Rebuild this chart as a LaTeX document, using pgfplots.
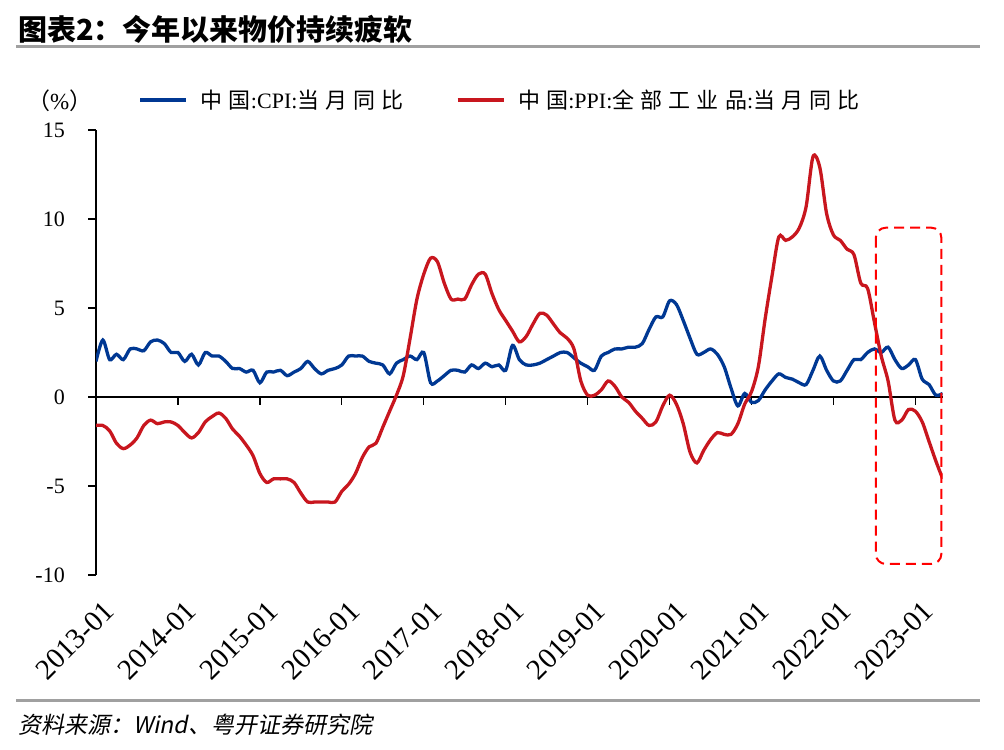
\documentclass[border=0pt]{standalone}
\usepackage{pgfplots}
\usepackage{pgfplotstable}
\pgfplotsset{compat=1.18}
\usepackage{fontspec}
\setmainfont{Liberation Serif}
\newfontfamily\cjk{Noto Sans CJK SC}
\newfontfamily\cjkleg{Noto Sans CJK SC}[LetterSpace=28]
\newfontfamily\cjksrc{Noto Sans CJK SC}[FakeSlant=0.2]

\definecolor{cpiblue}{RGB}{0,56,147}
\definecolor{ppired}{RGB}{200,22,30}
\definecolor{rulegray}{RGB}{160,160,160}

% month index (0 = 2013-01), CPI yoy, PPI yoy
\pgfplotstableread{
m cpi ppi
0 2.0 -1.6
1 3.2 -1.6
2 2.1 -1.9
3 2.4 -2.6
4 2.1 -2.9
5 2.7 -2.7
6 2.7 -2.3
7 2.6 -1.6
8 3.1 -1.3
9 3.2 -1.5
10 3.0 -1.4
11 2.5 -1.4
12 2.5 -1.6
13 2.0 -2.0
14 2.4 -2.3
15 1.8 -2.0
16 2.5 -1.4
17 2.3 -1.1
18 2.3 -0.9
19 2.0 -1.2
20 1.6 -1.8
21 1.6 -2.2
22 1.4 -2.7
23 1.5 -3.3
24 0.8 -4.3
25 1.4 -4.8
26 1.4 -4.6
27 1.5 -4.6
28 1.2 -4.6
29 1.4 -4.8
30 1.6 -5.4
31 2.0 -5.9
32 1.6 -5.9
33 1.3 -5.9
34 1.5 -5.9
35 1.6 -5.9
36 1.8 -5.3
37 2.3 -4.9
38 2.3 -4.3
39 2.3 -3.4
40 2.0 -2.8
41 1.9 -2.6
42 1.8 -1.7
43 1.3 -0.8
44 1.9 0.1
45 2.1 1.2
46 2.3 3.3
47 2.1 5.5
48 2.5 6.9
49 0.8 7.8
50 0.9 7.6
51 1.2 6.4
52 1.5 5.5
53 1.5 5.5
54 1.4 5.5
55 1.8 6.3
56 1.6 6.9
57 1.9 6.9
58 1.7 5.8
59 1.8 4.9
60 1.5 4.3
61 2.9 3.7
62 2.1 3.1
63 1.8 3.4
64 1.8 4.1
65 1.9 4.7
66 2.1 4.6
67 2.3 4.1
68 2.5 3.6
69 2.5 3.3
70 2.2 2.7
71 1.9 0.9
72 1.7 0.1
73 1.5 0.1
74 2.3 0.4
75 2.5 0.9
76 2.7 0.6
77 2.7 0.0
78 2.8 -0.3
79 2.8 -0.8
80 3.0 -1.2
81 3.8 -1.6
82 4.5 -1.4
83 4.5 -0.5
84 5.4 0.1
85 5.2 -0.4
86 4.3 -1.5
87 3.3 -3.1
88 2.4 -3.7
89 2.5 -3.0
90 2.7 -2.4
91 2.4 -2.0
92 1.7 -2.1
93 0.5 -2.1
94 -0.5 -1.5
95 0.2 -0.4
96 -0.3 0.3
97 -0.2 1.7
98 0.4 4.4
99 0.9 6.8
100 1.3 9.0
101 1.1 8.8
102 1.0 9.0
103 0.8 9.5
104 0.7 10.7
105 1.5 13.5
106 2.3 12.9
107 1.5 10.3
108 0.9 9.1
109 0.9 8.8
110 1.5 8.3
111 2.1 8.0
112 2.1 6.4
113 2.5 6.1
114 2.7 4.2
115 2.5 2.3
116 2.8 0.9
117 2.1 -1.3
118 1.6 -1.3
119 1.8 -0.7
120 2.1 -0.8
121 1.0 -1.4
122 0.7 -2.5
123 0.1 -3.6
124 0.2 -4.6
}\prices

\begin{document}
\begin{tikzpicture}
\path[use as bounding box] (0bp,0bp) rectangle (1004bp,750bp);

% title and rules
\node[anchor=west,inner sep=0pt] at (18bp,721bp) {\fontsize{29bp}{33bp}\selectfont\cjk\bfseries 图表2：今年以来物价持续疲软};
\draw[rulegray,line width=3bp] (16bp,703.3bp) -- (980bp,703.3bp);
\draw[rulegray,line width=3bp] (16bp,49.3bp) -- (980bp,49.3bp);
\node[anchor=west,inner sep=0pt] at (18bp,25bp) {\fontsize{23bp}{27bp}\selectfont\cjksrc 资料来源：Wind、粤开证券研究院};
\node[anchor=west,inner sep=0pt] at (27bp,649bp) {\fontsize{23bp}{27bp}\selectfont{\cjk （}\%{\cjk ）}};

% zero line with year ticks
\begin{axis}[at={(96bp,353bp)},anchor=south west,scale only axis,
  width=846.7bp,height=10bp,xmin=0,xmax=124,ymin=0,ymax=1,
  axis x line*=bottom,axis y line=none,
  x axis line style={black,line width=1.3bp},
  xtick={0,12,...,120},xticklabels={},ytick=\empty,
  tick align=outside,major tick length=8bp,
  xtick style={black,line width=1.3bp}]
\end{axis}

\begin{axis}[at={(96bp,175bp)},anchor=south west,scale only axis,
  width=846.7bp,height=445bp,
  xmin=0,xmax=124,ymin=-10,ymax=15,
  axis y line*=left,axis x line*=bottom,
  x axis line style={draw=none},xtick style={draw=none},
  y axis line style={black,line width=1.3bp},
  ytick style={black,line width=1.3bp},
  ytick={-10,-5,0,5,10,15},
  tick align=outside,major tick length=8bp,
  /pgf/number format/assume math mode=true,
  yticklabel style={font=\fontsize{22bp}{26bp}\selectfont,anchor=east,inner sep=0pt,xshift=-23bp},
  xtick={0,12,...,120},
  xticklabels={2013-01,2014-01,2015-01,2016-01,2017-01,2018-01,2019-01,2020-01,2021-01,2022-01,2023-01},
  x tick label style={font=\fontsize{29bp}{33bp}\selectfont,xshift=13bp,yshift=-23bp,rotate=45,anchor=east,inner sep=0pt},
  legend style={at={(0.050,1.0674)},anchor=west,draw=none,fill=none,inner sep=0pt,
    font=\fontsize{22bp}{26bp}\selectfont,
    /tikz/every odd column/.append style={column sep=11bp},
    /tikz/every even column/.append style={column sep=50bp}},
  legend columns=-1,
  legend image code/.code={\draw[#1,line width=3.3bp] (0bp,0bp) -- (46bp,0bp);},
]
\addplot[cpiblue,line width=3.3bp,smooth] table[x=m,y=cpi]{\prices};
\addlegendentry{{\cjkleg 中国}:CPI:{\cjkleg 当月同比}}
\addplot[ppired,line width=3.3bp,smooth] table[x=m,y=ppi]{\prices};
\addlegendentry{{\cjkleg 中国}:PPI:{\cjkleg 全部工业品}:{\cjkleg 当月同比}}
\draw[red,line width=2bp,rounded corners=10bp,dash pattern=on 10bp off 6bp]
  (axis cs:114.2,9.51) rectangle (axis cs:123.8,-9.38);
\end{axis}
\end{tikzpicture}
\end{document}
